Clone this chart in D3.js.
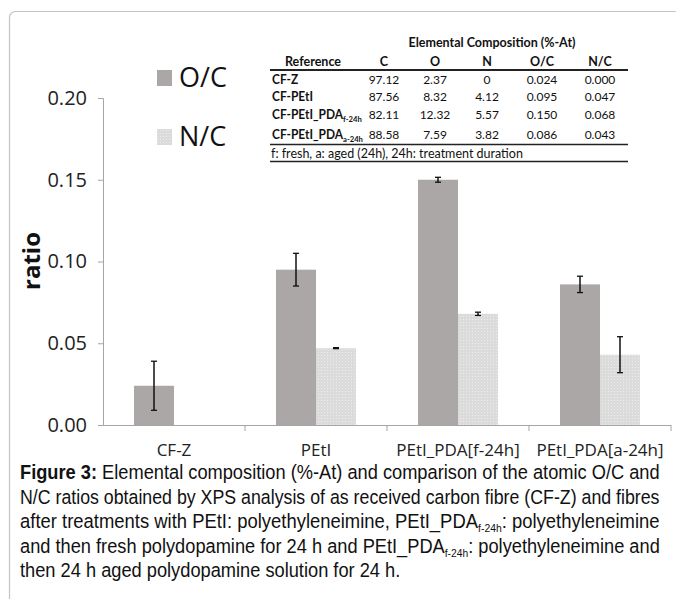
<!DOCTYPE html>
<html><head><meta charset="utf-8">
<script src="https://cdn.jsdelivr.net/npm/d3@7"></script>
<style>
html,body{margin:0;padding:0;background:#fff;}
svg{display:block;}
</style></head>
<body>
<svg id="c" width="676" height="599"></svg>
<script>
// ---- data ----
const categories = ["CF-Z", "PEtI", "PEtI_PDA[f-24h]", "PEtI_PDA[a-24h]"];
const seriesNames = ["O/C", "N/C"];
const ocValues = [0.024, 0.095, 0.150, 0.086];
const ncValues = [0.000, 0.047, 0.068, 0.043];
const ocErrors = [0.015, 0.010, 0.0015, 0.005];
const ncErrors = [0, 0.0003, 0.001, 0.011];
const yTicks = [0.00, 0.05, 0.10, 0.15, 0.20];

const tableHeader = ["C", "O", "N", "O/C", "N/C"];
const tableRowNames = [["CF-Z", ""], ["CF-PEtI", ""], ["CF-PEtI_PDA", "f-24h"], ["CF-PEtI_PDA", "a-24h"]];
const tableC = ["97.12", "87.56", "82.11", "88.58"];
const tableO = ["2.37", "8.32", "12.32", "7.59"];
const tableN = ["0", "4.12", "5.57", "3.82"];
const tableOC = ["0.024", "0.095", "0.150", "0.086"];
const tableNC = ["0.000", "0.047", "0.068", "0.043"];

const svg = d3.select("#c");

// frame
svg.append("rect").attr("x", 9.5).attr("y", 11.5).attr("width", 700).attr("height", 700)
  .attr("rx", 6).attr("fill", "none").attr("stroke", "#c4c4c4").attr("stroke-width", 1.2);

// pattern for N/C
const defs = svg.append("defs");
const pat = defs.append("pattern").attr("id", "dots").attr("width", 3).attr("height", 3)
  .attr("patternUnits", "userSpaceOnUse");
pat.append("rect").attr("width", 3).attr("height", 3).attr("fill", "#dbdbdb");
pat.append("rect").attr("x", 1).attr("y", 1).attr("width", 1).attr("height", 1).attr("fill", "#ececec");

const colors = { "O/C": "#aca7a7", "N/C": "url(#dots)" };

const x0 = 103, x1 = 671, yTop = 98, yBot = 425;
const x = d3.scaleBand().domain(categories).range([x0, x1]).padding(0);
const xs = d3.scaleBand().domain(seriesNames).range([0, x.bandwidth()]).paddingInner(0).paddingOuter(0.775);
const y = d3.scaleLinear().domain([0, 0.2]).range([yBot, yTop]);

const data = categories.map((c, i) => ({
  cat: c,
  vals: [
    { s: "O/C", v: ocValues[i], e: ocErrors[i] },
    { s: "N/C", v: ncValues[i], e: ncErrors[i] }
  ]
}));

// bars
const g = svg.append("g");
const groups = g.selectAll("g.cat").data(data).join("g")
  .attr("transform", d => `translate(${x(d.cat)},0)`);
groups.selectAll("rect").data(d => d.vals).join("rect")
  .attr("x", d => xs(d.s)).attr("width", xs.bandwidth())
  .attr("y", d => y(d.v)).attr("height", d => y(0) - y(d.v))
  .attr("fill", d => colors[d.s]);

// error bars
const eb = groups.selectAll("g.eb").data(d => d.vals.filter(v => v.v > 0)).join("g");
eb.append("line")
  .attr("x1", d => xs(d.s) + xs.bandwidth() / 2).attr("x2", d => xs(d.s) + xs.bandwidth() / 2)
  .attr("y1", d => y(d.v + d.e)).attr("y2", d => y(d.v - d.e))
  .attr("stroke", "#111").attr("stroke-width", 1.5);
eb.selectAll("line.cap").data(d => [[d, d.v + d.e], [d, d.v - d.e]]).join("line")
  .attr("x1", d => xs(d[0].s) + xs.bandwidth() / 2 - 3).attr("x2", d => xs(d[0].s) + xs.bandwidth() / 2 + 3)
  .attr("y1", d => y(d[1])).attr("y2", d => y(d[1]))
  .attr("stroke", "#111").attr("stroke-width", 1.3);

// y axis
const yAxis = d3.axisLeft(y).tickValues(yTicks).tickFormat(d3.format(".2f")).tickSize(5).tickPadding(11);
const ya = svg.append("g").attr("transform", `translate(${x0},0)`).call(yAxis);
ya.select(".domain").attr("stroke", "#a6a6a6");
ya.selectAll(".tick line").attr("stroke", "#a6a6a6");
ya.selectAll(".tick text").attr("font-family", "'Open Sans'").attr("font-size", 20).attr("fill", "#222");

// x axis
const xa = svg.append("g").attr("transform", `translate(0,${yBot})`);
xa.append("line").attr("x1", x0).attr("x2", x1).attr("y1", 0.5).attr("y2", 0.5).attr("stroke", "#a6a6a6");
const bounds = categories.map(c => x(c) + x.bandwidth());
xa.selectAll("line.t").data(bounds).join("line")
  .attr("x1", d => d).attr("x2", d => d).attr("y1", 0).attr("y2", 6).attr("stroke", "#a6a6a6");
xa.selectAll("text").data(categories).join("text")
  .attr("x", d => x(d) + x.bandwidth() / 2).attr("y", 31)
  .attr("text-anchor", "middle").attr("font-family", "'Open Sans'").attr("font-size", 17).attr("fill", "#222")
  .text(d => d);

// y label
svg.append("text").attr("transform", "translate(40,261) rotate(-90)")
  .attr("text-anchor", "middle").attr("font-family", "'Open Sans'").attr("font-weight", "bold")
  .attr("font-size", 24).attr("fill", "#111").text("ratio");

// legend
const leg = svg.append("g");
seriesNames.forEach((s, i) => {
  const ly = 70 + i * 59;
  leg.append("rect").attr("x", 157).attr("y", ly).attr("width", 15).attr("height", 16).attr("fill", colors[s]);
  leg.append("text").attr("x", 179).attr("y", ly + 17).attr("font-family", "'Open Sans'")
    .attr("font-size", 27).attr("fill", "#111").text(s);
});

// table
const tb = svg.append("g").attr("font-family", "Lato").attr("font-size", 12.5).attr("fill", "#111");
tb.append("rect").attr("x", 270).attr("y", 34).attr("width", 358).attr("height", 128).attr("fill", "#fff");
tb.append("text").attr("x", 492).attr("y", 47).attr("text-anchor", "middle").attr("font-weight", "bold")
  .text("Elemental Composition (%-At)");
tb.append("text").attr("x", 313).attr("y", 66).attr("text-anchor", "middle").attr("font-weight", "bold").text("Reference");
const colX = [384, 435, 487, 542, 600];
tb.selectAll("text.h").data(tableHeader).join("text").attr("class", "h")
  .attr("x", (d, i) => colX[i]).attr("y", 66).attr("text-anchor", "middle").attr("font-weight", "bold").text(d => d);
tb.append("line").attr("x1", 270).attr("x2", 628).attr("y1", 70).attr("y2", 70).attr("stroke", "#222").attr("stroke-width", 2);
const rowY = [84, 101, 119, 139];
let labScale = 1;
tableRowNames.forEach((r, i) => {
  const t = tb.append("text").attr("x", 0).attr("y", 0).attr("font-weight", "bold").attr("data-w", 1);
  t.append("tspan").text(r[0]);
  if (r[1]) t.append("tspan").attr("font-size", 8).attr("dy", 3).text(r[1]);
  const w = t.node().getComputedTextLength();
  if (r[1]) labScale = Math.min(1, 91 / w);
  const vals = [tableC[i], tableO[i], tableN[i], tableOC[i], tableNC[i]];
  tb.selectAll(null).data(vals).join("text")
    .attr("x", (d, j) => colX[j]).attr("y", rowY[i]).attr("text-anchor", "middle")
    .attr("font-size", 12).text(d => d);
});
tb.selectAll("text[data-w]").each(function(d, i) {
  d3.select(this).attr("transform", `translate(272,${rowY[i]}) scale(${labScale},1)`);
});
tb.append("line").attr("x1", 270).attr("x2", 628).attr("y1", 144.5).attr("y2", 144.5).attr("stroke", "#222").attr("stroke-width", 1.3);
tb.append("text").attr("x", 271).attr("y", 158).text("f: fresh, a: aged (24h), 24h: treatment duration");
tb.append("line").attr("x1", 270).attr("x2", 628).attr("y1", 161.5).attr("y2", 161.5).attr("stroke", "#222").attr("stroke-width", 1.3);

// caption
const cap = svg.append("g").attr("font-family", "'Liberation Sans', Arial, sans-serif").attr("font-size", 19.5).attr("fill", "#111");
const capLines = [
  [["b", "Figure 3:"], ["n", " Elemental composition (%-At) and comparison of the atomic O/C and"]],
  [["n", "N/C ratios obtained by XPS analysis of as received carbon fibre (CF-Z) and fibres"]],
  [["n", "after treatments with PEtI: polyethyleneimine, PEtI_PDA"], ["s", "f-24h"], ["n", ": polyethyleneimine"]],
  [["n", "and then fresh polydopamine for 24 h and PEtI_PDA"], ["s", "f-24h"], ["n", ": polyethyleneimine and"]],
  [["n", "then 24 h aged polydopamine solution for 24 h."]]
];
const capY = [479, 504, 528, 553, 577];
const target = 640;
let ratio = 1;
capLines.forEach((ln, i) => {
  const t = cap.append("text").attr("x", 0).attr("y", 0);
  ln.forEach((p, k) => {
    const sp = t.append("tspan").text(p[1]);
    if (p[0] === "b") sp.attr("font-weight", "bold");
    if (p[0] === "s") sp.attr("font-size", 11).attr("dy", 4);
    if (p[0] === "n" && k > 0 && ln[k - 1][0] === "s") sp.attr("dy", -4);
  });
  const w = t.node().getComputedTextLength();
  let sx;
  if (i < 4) {
    sx = target / w;
    if (i === 0) ratio = sx;
  } else {
    sx = ratio;
  }
  t.attr("transform", `translate(20,${capY[i]}) scale(${sx},1)`);
});
</script>
</body></html>
